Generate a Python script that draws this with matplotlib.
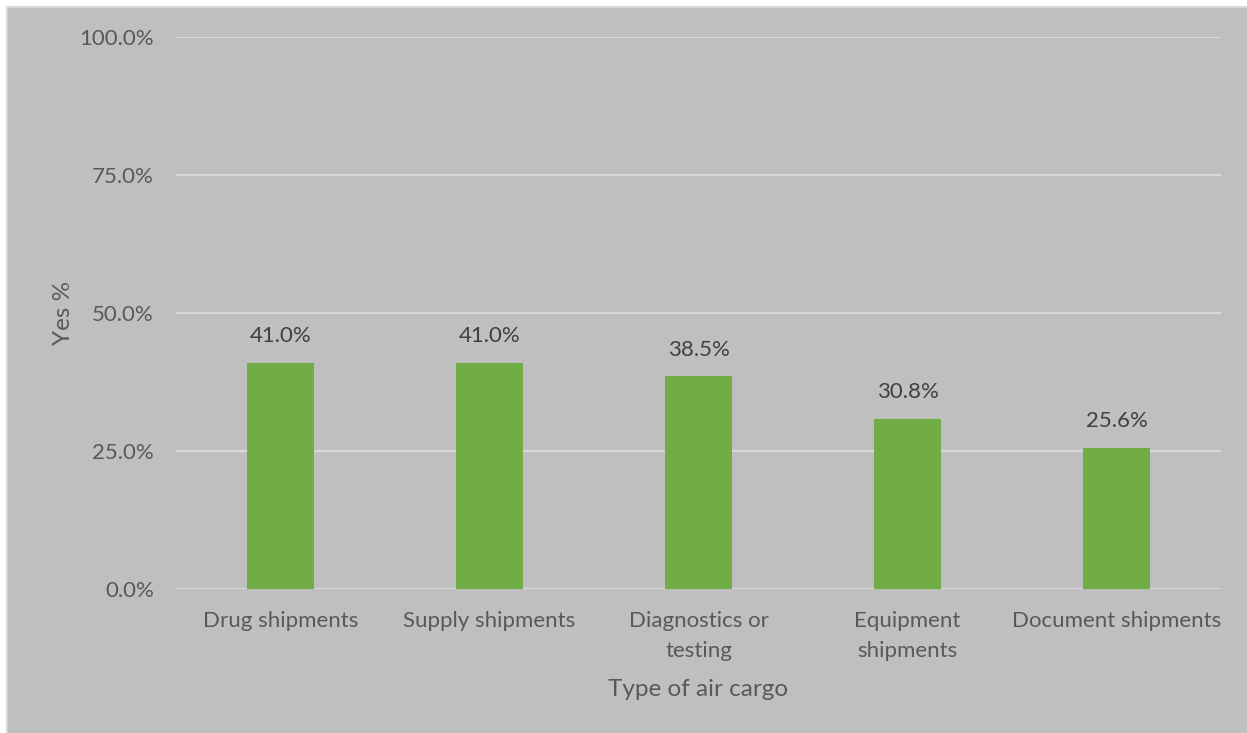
import matplotlib
matplotlib.use("Agg")
import matplotlib.pyplot as plt
from matplotlib.patches import Rectangle
from matplotlib.ticker import FuncFormatter

categories = ["Drug shipments", "Supply shipments", "Diagnostics or\ntesting",
              "Equipment\nshipments", "Document shipments"]
yes_pct = [41.0, 41.0, 38.5, 30.8, 25.6]
y_ticks = [0, 25, 50, 75, 100]

plt.rcParams["font.family"] = ["Lato", "DejaVu Sans"]
text_color = "#595959"
bg = "#BFBFBF"

fig = plt.figure(figsize=(12.47, 7.33), dpi=100)
fig.patch.set_facecolor("white")
# chart area background with light border (extends past right/bottom edges)
fig.patches.append(Rectangle((7 / 1247, -0.05), 1.1, 1.05 - 7 / 733,
                             transform=fig.transFigure, facecolor=bg,
                             edgecolor="#D9D9D9", linewidth=1.5, zorder=-5))

ax = fig.add_axes([176 / 1247, 144 / 733, 1045 / 1247, 552 / 733])
ax.set_facecolor(bg)
ax.patch.set_alpha(0)

x = range(len(categories))
bars = ax.bar(x, yes_pct, width=0.32, color="#70AD47", zorder=3)
for xi, v in zip(x, yes_pct):
    ax.text(xi, v + 3.0, f"{v:.1f}%", ha="center", va="bottom",
            fontsize=16, color="#404040")

ax.set_xlim(-0.5, len(categories) - 0.5)
ax.set_ylim(0, 100)
ax.set_yticks(y_ticks)
ax.yaxis.set_major_formatter(FuncFormatter(lambda v, p: f"{v:.1f}%"))
ax.grid(axis="y", color="#D9D9D9", linewidth=1.5, zorder=0)
ax.set_xticks(list(x))
ax.set_xticklabels(categories, fontsize=16, color=text_color, linespacing=1.6)
ax.tick_params(axis="both", length=0, labelsize=16, labelcolor=text_color)
ax.tick_params(axis="x", pad=16)
ax.tick_params(axis="y", pad=16)
for s in ax.spines.values():
    s.set_visible(False)

ax.set_xlabel("Type of air cargo", fontsize=17.5, color=text_color, labelpad=13)
ax.set_ylabel("Yes %", fontsize=17.5, color=text_color, labelpad=4)

fig.savefig("out.png", dpi=100, facecolor=fig.get_facecolor())
